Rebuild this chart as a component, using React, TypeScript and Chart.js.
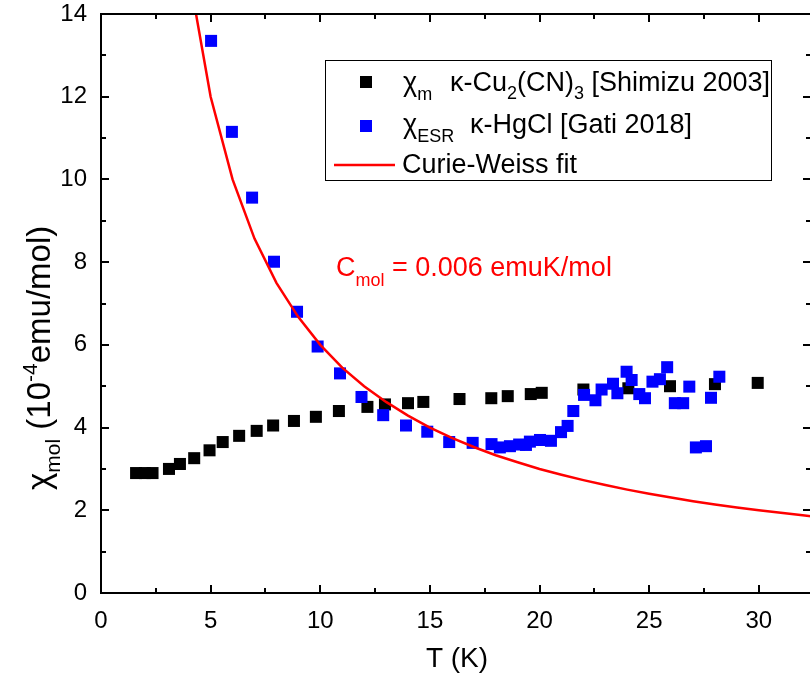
import { useEffect, useRef } from "react";
import { Chart, registerables } from "chart.js";

Chart.register(...registerables);

// κ-Cu2(CN)3 [Shimizu 2003]
const shimizuT = [1.6, 2.0, 2.35, 3.1, 3.6, 4.25, 4.95, 5.55, 6.3, 7.1, 7.85, 8.8, 9.8, 10.85, 12.15, 12.95, 14.0, 14.7, 16.35, 17.8, 18.55, 19.6, 20.1, 22.0, 24.05, 25.95, 28.0, 29.95];
const shimizuChi = [2.9, 2.9, 2.9, 3.0, 3.12, 3.26, 3.45, 3.65, 3.8, 3.92, 4.05, 4.16, 4.26, 4.4, 4.5, 4.56, 4.59, 4.62, 4.69, 4.71, 4.76, 4.81, 4.84, 4.92, 4.95, 5.0, 5.05, 5.08];

// κ-HgCl [Gati 2018]
const gatiT = [5.02, 5.97, 6.89, 7.89, 8.94, 9.88, 10.9, 11.88, 12.87, 13.91, 14.88, 15.88, 16.95, 17.81, 18.19, 18.65, 19.07, 19.38, 19.56, 20.02, 20.52, 20.98, 21.28, 21.54, 22.03, 22.55, 22.83, 23.35, 23.55, 23.97, 24.2, 24.55, 24.81, 25.15, 25.49, 25.82, 26.17, 26.55, 26.83, 27.13, 27.59, 27.82, 28.2];
const gatiChi = [13.35, 11.15, 9.56, 8.01, 6.8, 5.96, 5.31, 4.74, 4.3, 4.05, 3.9, 3.65, 3.63, 3.6, 3.52, 3.55, 3.59, 3.58, 3.66, 3.7, 3.68, 3.89, 4.04, 4.4, 4.79, 4.66, 4.92, 5.06, 4.83, 5.35, 5.15, 4.81, 4.71, 5.11, 5.17, 5.46, 4.59, 4.59, 4.99, 3.52, 3.55, 4.72, 5.23];

// Curie-Weiss fit
const fitT = [4, 5, 6, 7, 8, 9, 10, 11, 12, 13, 14, 15, 16, 17, 18, 19, 20, 21, 22, 23, 24, 25, 26, 27, 28, 29, 30, 31, 32, 33];
const fitChi = [15, 12, 10, 8.57, 7.5, 6.67, 6, 5.45, 5, 4.62, 4.29, 4, 3.75, 3.53, 3.33, 3.16, 3, 2.86, 2.73, 2.61, 2.5, 2.4, 2.31, 2.22, 2.14, 2.07, 2, 1.94, 1.88, 1.82];

const xTicks = [0, 5, 10, 15, 20, 25, 30];
const yTicks = [0, 2, 4, 6, 8, 10, 12, 14];
const X_MIN = 0;
const X_MAX = 32.38;
const Y_MIN = 0;
const Y_MAX = 14;
const X_MINOR = 2.5;
const Y_MINOR = 1;

const FONT = '"Liberation Sans", Arial, Helvetica, sans-serif';

type Seg = { text: string; size: number; dy?: number };

function drawSegs(ctx: CanvasRenderingContext2D, segs: Seg[], x: number, y: number) {
  let cx = x;
  for (const s of segs) {
    ctx.font = `${s.size}px ${FONT}`;
    ctx.fillText(s.text, cx, y + (s.dy || 0));
    cx += ctx.measureText(s.text).width;
  }
  return cx;
}

const framePlugin = {
  id: "frame",
  afterDatasetsDraw(chart: any) {
    const { ctx, chartArea: a, scales } = chart;
    const xs = scales.x;
    const ys = scales.y;
    ctx.save();
    ctx.strokeStyle = "#000";
    ctx.lineWidth = 2;
    ctx.strokeRect(a.left, a.top, a.right - a.left, a.bottom - a.top);
    ctx.beginPath();
    for (let v = X_MIN; v <= X_MAX + 1e-6; v += X_MINOR) {
      const px = Math.round(xs.getPixelForValue(v));
      const major = Math.abs(v / 5 - Math.round(v / 5)) < 1e-6;
      const len = major ? 8 : 5;
      ctx.moveTo(px, a.bottom);
      ctx.lineTo(px, a.bottom - len);
      ctx.moveTo(px, a.top);
      ctx.lineTo(px, a.top + len);
    }
    for (let v = Y_MIN; v <= Y_MAX + 1e-6; v += Y_MINOR) {
      const py = Math.round(ys.getPixelForValue(v));
      const major = v % 2 === 0;
      const len = major ? 8 : 5;
      ctx.moveTo(a.left, py);
      ctx.lineTo(a.left + len, py);
      ctx.moveTo(a.right, py);
      ctx.lineTo(a.right - len, py);
    }
    ctx.stroke();
    ctx.restore();
  },
  afterDraw(chart: any) {
    const { ctx } = chart;
    ctx.save();
    ctx.textBaseline = "alphabetic";
    ctx.textAlign = "left";

    // Legend box
    ctx.strokeStyle = "#000";
    ctx.lineWidth = 1;
    ctx.fillStyle = "#fff";
    ctx.fillRect(325.5, 60.5, 446, 120);
    ctx.strokeRect(325.5, 60.5, 446, 120);

    ctx.fillStyle = "#000";
    ctx.fillRect(360, 76, 12, 12);
    ctx.fillStyle = "#0000ff";
    ctx.fillRect(360, 120, 12, 12);
    ctx.strokeStyle = "#ff0000";
    ctx.lineWidth = 2.5;
    ctx.beginPath();
    ctx.moveTo(334, 165);
    ctx.lineTo(395, 165);
    ctx.stroke();

    ctx.fillStyle = "#000";
    drawSegs(ctx, [{ text: "χ", size: 27 }, { text: "m", size: 18, dy: 9 }], 403, 91);
    drawSegs(
      ctx,
      [
        { text: "κ-Cu", size: 27 },
        { text: "2", size: 18, dy: 8 },
        { text: "(CN)", size: 27 },
        { text: "3", size: 18, dy: 8 },
        { text: " [Shimizu 2003]", size: 27 },
      ],
      450,
      91
    );
    drawSegs(ctx, [{ text: "χ", size: 27 }, { text: "ESR", size: 18, dy: 9 }], 403, 133);
    drawSegs(ctx, [{ text: "κ-HgCl [Gati 2018]", size: 27 }], 470, 133);
    drawSegs(ctx, [{ text: "Curie-Weiss fit", size: 27 }], 402, 173);

    // Annotation
    ctx.fillStyle = "#ff0000";
    drawSegs(
      ctx,
      [
        { text: "C", size: 27 },
        { text: "mol", size: 18, dy: 10 },
        { text: " = 0.006 emuK/mol", size: 27 },
      ],
      336,
      276
    );

    // X title
    ctx.fillStyle = "#000";
    ctx.font = `28px ${FONT}`;
    ctx.textAlign = "center";
    ctx.fillText("T (K)", 457, 667);

    // Y title
    ctx.textAlign = "left";
    ctx.translate(50, 490);
    ctx.rotate(-Math.PI / 2);
    drawSegs(
      ctx,
      [
        { text: "χ", size: 33 },
        { text: "mol", size: 21, dy: 10 },
        { text: " (10", size: 33 },
        { text: "-4", size: 21, dy: -13 },
        { text: "emu/mol)", size: 33 },
      ],
      0,
      0
    );
    ctx.restore();
  },
};

export default function App() {
  const ref = useRef<HTMLCanvasElement | null>(null);

  useEffect(() => {
    document.body.style.margin = "0";
    const canvas = ref.current;
    if (!canvas) return;
    const tickFont = { family: FONT, size: 24, lineHeight: 1 };
    const chart = new Chart(canvas, {
      type: "scatter",
      data: {
        datasets: [
          {
            label: "Curie-Weiss fit",
            data: fitT.map((t, i) => ({ x: t, y: fitChi[i] })),
            showLine: true,
            borderColor: "#ff0000",
            borderWidth: 2.5,
            pointRadius: 0,
            fill: false,
            tension: 0,
            order: 0,
          },
          {
            label: "κ-HgCl [Gati 2018]",
            data: gatiT.map((t, i) => ({ x: t, y: gatiChi[i] })),
            pointStyle: "rect",
            pointRadius: 8.5,
            backgroundColor: "#0000ff",
            borderWidth: 0,
            order: 1,
          },
          {
            label: "κ-Cu2(CN)3 [Shimizu 2003]",
            data: shimizuT.map((t, i) => ({ x: t, y: shimizuChi[i] })),
            pointStyle: "rect",
            pointRadius: 8.5,
            backgroundColor: "#000000",
            borderWidth: 0,
            order: 2,
          },
        ],
      },
      options: {
        animation: false,
        responsive: false,
        events: [],
        layout: { autoPadding: false, padding: { top: 14, right: 1, left: 0, bottom: 0 } },
        plugins: { legend: { display: false }, tooltip: { enabled: false } },
        scales: {
          x: {
            type: "linear",
            min: X_MIN,
            max: X_MAX,
            grid: { display: false, drawTicks: true, tickLength: 16 },
            border: { display: false },
            afterBuildTicks: (s: any) => {
              s.ticks = [...xTicks, X_MAX].map((v) => ({ value: v }));
            },
            afterFit: (s: any) => {
              s.height = 84;
            },
            ticks: {
              font: tickFont,
              color: "#000",
              padding: 0,
              maxRotation: 0,
              minRotation: 0,
              autoSkip: false,
              callback: (v: any) => (xTicks.includes(v) ? String(v) : ""),
            },
          },
          y: {
            type: "linear",
            min: Y_MIN,
            max: Y_MAX,
            grid: { display: false, drawTicks: true, tickLength: 14 },
            border: { display: false },
            afterBuildTicks: (s: any) => {
              s.ticks = yTicks.map((v) => ({ value: v }));
            },
            afterFit: (s: any) => {
              s.width = 101;
            },
            ticks: { font: tickFont, color: "#000", padding: 0, autoSkip: false },
          },
        },
      },
      plugins: [framePlugin],
    } as any);
    return () => chart.destroy();
  }, []);

  return (
    <div style={{ position: "absolute", left: 0, top: 0, width: 810, height: 677, overflow: "hidden", background: "#fff" }}>
      <canvas ref={ref} width={812} height={677} style={{ display: "block" }} />
    </div>
  );
}
